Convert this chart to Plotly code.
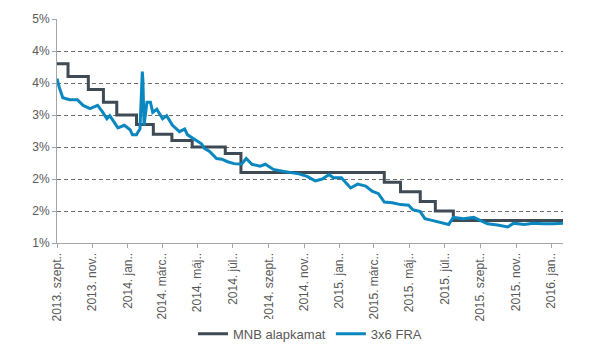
import plotly.graph_objects as go

# MNB base rate (step series)
mnb_dates = ["2013-09-02", "2013-09-21", "2013-10-26", "2013-11-21", "2013-12-14",
             "2014-01-17", "2014-02-15", "2014-03-19", "2014-04-23", "2014-06-19",
             "2014-07-16", "2015-03-20", "2015-04-17", "2015-05-21", "2015-06-16",
             "2015-07-17", "2016-01-22"]
mnb_values = [3.80, 3.60, 3.40, 3.20, 3.00,
              2.85, 2.70, 2.60, 2.50, 2.40,
              2.10, 1.95, 1.80, 1.65, 1.50,
              1.35, 1.35]

# 3x6 FRA
fra_dates = ["2013-09-02", "2013-09-06", "2013-09-12", "2013-09-24", "2013-10-07",
             "2013-10-17", "2013-10-29", "2013-11-11", "2013-11-20", "2013-11-27",
             "2013-12-02", "2013-12-16", "2013-12-27", "2014-01-06", "2014-01-10",
             "2014-01-17", "2014-01-20", "2014-01-23", "2014-01-27", "2014-01-28",
             "2014-01-30", "2014-02-04", "2014-02-10", "2014-02-14", "2014-02-21",
             "2014-03-03", "2014-03-10", "2014-03-20", "2014-04-01", "2014-04-10",
             "2014-04-15", "2014-04-28", "2014-05-09", "2014-05-14", "2014-05-23",
             "2014-06-04", "2014-06-13", "2014-06-23", "2014-07-04", "2014-07-17",
             "2014-07-25", "2014-08-04", "2014-08-18", "2014-08-27", "2014-09-10",
             "2014-09-26", "2014-10-14", "2014-10-24", "2014-11-07", "2014-11-21",
             "2014-12-03", "2014-12-15", "2014-12-22", "2015-01-05", "2015-01-21",
             "2015-02-02", "2015-02-16", "2015-02-27", "2015-03-10", "2015-03-20",
             "2015-04-03", "2015-04-17", "2015-05-01", "2015-05-08", "2015-05-21",
             "2015-05-29", "2015-06-12", "2015-06-26", "2015-07-09", "2015-07-17",
             "2015-08-04", "2015-08-21", "2015-09-02", "2015-09-14", "2015-10-01",
             "2015-10-19", "2015-10-29", "2015-11-16", "2015-12-02", "2015-12-18",
             "2016-01-06", "2016-01-22"]
fra_values = [3.57, 3.43, 3.27, 3.24, 3.24,
              3.15, 3.10, 3.15, 3.04, 2.94,
              2.99, 2.80, 2.84, 2.77, 2.69,
              2.69, 2.74, 2.78, 3.68, 3.55,
              2.84, 3.20, 3.20, 3.04, 3.09,
              2.94, 2.99, 2.84, 2.74, 2.78,
              2.69, 2.61, 2.55, 2.48, 2.43,
              2.32, 2.31, 2.27, 2.24, 2.23,
              2.32, 2.23, 2.20, 2.23, 2.15,
              2.12, 2.10, 2.08, 2.04, 1.97,
              2.00, 2.07, 2.02, 2.02, 1.86,
              1.92, 1.89, 1.81, 1.77, 1.64,
              1.63, 1.60, 1.59, 1.52, 1.49,
              1.38, 1.35, 1.32, 1.29, 1.40,
              1.38, 1.40, 1.35, 1.30, 1.28,
              1.25, 1.31, 1.29, 1.31, 1.30,
              1.30, 1.31]

tick_dates = ["2013-09-02", "2013-11-02", "2014-01-02", "2014-03-02", "2014-05-02",
              "2014-07-02", "2014-09-02", "2014-11-02", "2015-01-02", "2015-03-02",
              "2015-05-02", "2015-07-02", "2015-09-02", "2015-11-02", "2016-01-02"]
tick_labels = ["2013. szept..", "2013. nov..", "2014. jan..", "2014. márc..", "2014. máj..",
               "2014. júl..", "2014. szept..", "2014. nov..", "2015. jan..", "2015. márc..",
               "2015. máj..", "2015. júl..", "2015. szept..", "2015. nov..", "2016. jan.."]

y_ticks = [1.0, 1.5, 2.0, 2.5, 3.0, 3.5, 4.0, 4.5]
y_labels = ["1%", "2%", "2%", "3%", "3%", "4%", "4%", "5%"]

fig = go.Figure()
fig.add_trace(go.Scatter(x=mnb_dates, y=mnb_values, mode="lines", name="MNB alapkamat",
                         line=dict(color="#3e4a54", width=3, shape="hv")))
fig.add_trace(go.Scatter(x=fra_dates, y=fra_values, mode="lines", name="3x6 FRA",
                         line=dict(color="#0b87c0", width=3)))

font = "Liberation Sans, Arial, sans-serif"
fig.update_layout(
    width=614, height=361,
    margin=dict(l=57, r=51, t=15, b=118),
    paper_bgcolor="white", plot_bgcolor="white",
    font=dict(family=font, color="#595959", size=12),
    showlegend=True,
    legend=dict(orientation="h", x=0.5, xanchor="center", y=-0.405, yanchor="middle",
                font=dict(size=13, color="#595959"), itemwidth=30,
                tracegroupgap=0),
    xaxis=dict(type="date", range=["2013-09-02", "2016-01-22"],
               tickmode="array", tickvals=tick_dates, ticktext=tick_labels,
               tickangle=-90, tickfont=dict(size=12, color="#595959"),
               showgrid=False, zeroline=False,
               showline=True, linecolor="#a6a6a6", linewidth=1,
               ticks="outside", ticklen=4, tickcolor="#a6a6a6"),
    yaxis=dict(range=[1.0, 4.5], tickmode="array", tickvals=y_ticks, ticktext=y_labels,
               tickfont=dict(size=12, color="#595959"),
               showgrid=True, gridcolor="#6f6f6f", gridwidth=1, griddash="4px,3px",
               zeroline=False, showline=True, linecolor="#a6a6a6", linewidth=1,
               ticks="outside", ticklen=4, tickcolor="#a6a6a6"),
)

fig.write_html("out.html", config={"displayModeBar": False},
               post_script="document.body.style.margin='0';")
